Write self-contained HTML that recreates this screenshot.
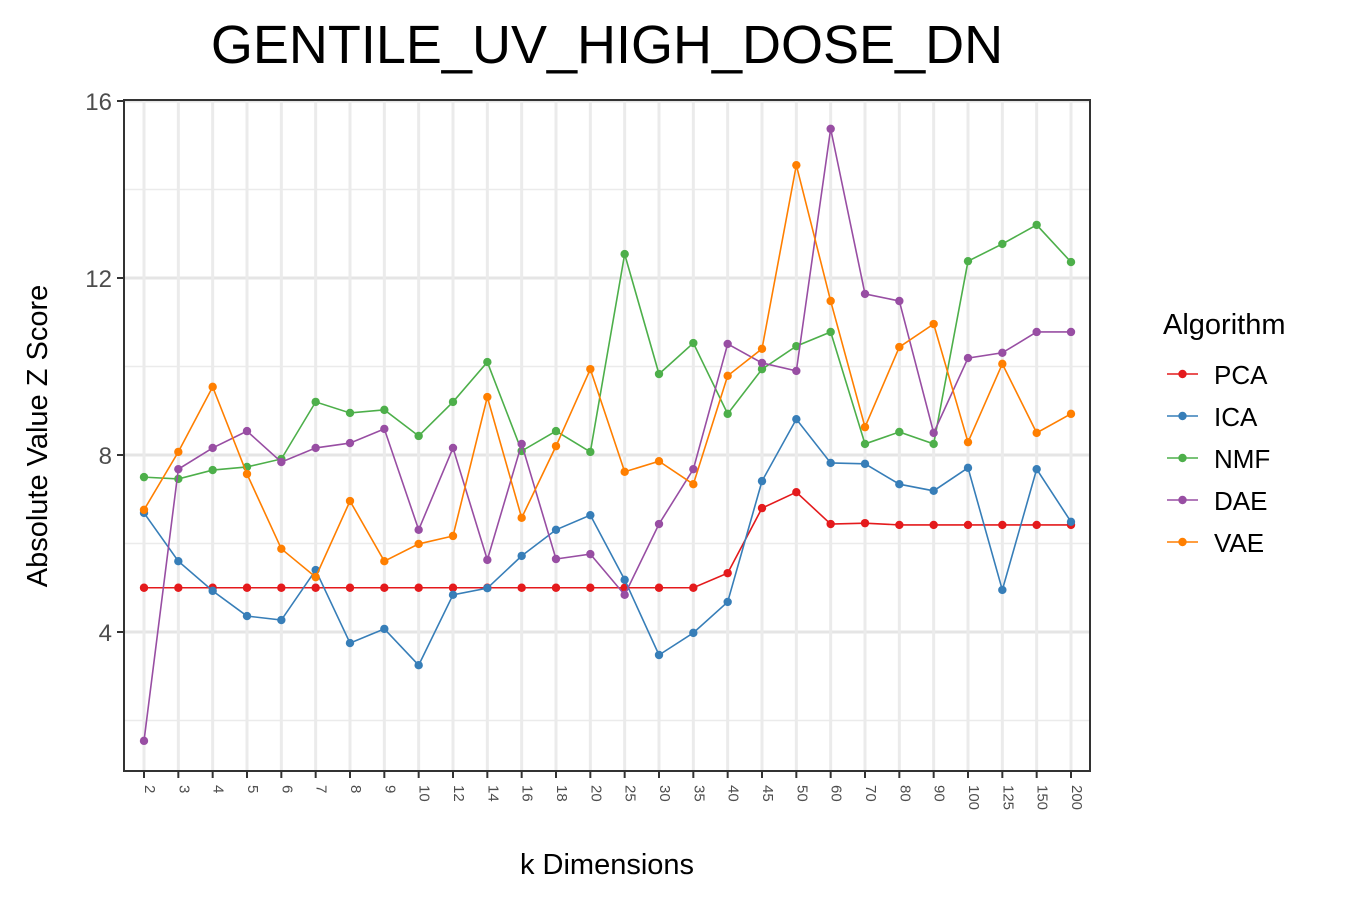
<!DOCTYPE html>
<html><head><meta charset="utf-8"><style>
body{margin:0;background:#fff}
svg text{font-family:"Liberation Sans",Arial,sans-serif}
</style></head><body>
<svg id="chart" width="1350" height="900" xmlns="http://www.w3.org/2000/svg">
<text x="607" y="63" font-size="54" text-anchor="middle">GENTILE_UV_HIGH_DOSE_DN</text>
<g id="grid"></g>
<g id="series"></g>
<rect x="124" y="100" width="966" height="671" fill="none" stroke="#333" stroke-width="2"/>
<g id="axes"></g>
<text x="607" y="874" font-size="29" text-anchor="middle">k Dimensions</text>
<text transform="translate(47,436) rotate(-90)" font-size="29" text-anchor="middle">Absolute Value Z Score</text>
<g id="legend"></g>
</svg>
<script>
const categories=["2","3","4","5","6","7","8","9","10","12","14","16","18","20","25","30","35","40","45","50","60","70","80","90","100","125","150","200"];
const seriesNames=["PCA","ICA","NMF","DAE","VAE"];
const colors=["#E41A1C","#377EB8","#4DAF4A","#984EA3","#FF7F00"];
const pcaValues=[5.0,5.0,5.0,5.0,5.0,5.0,5.0,5.0,5.0,5.0,5.0,5.0,5.0,5.0,5.0,5.0,5.0,5.33,6.80,7.16,6.44,6.46,6.42,6.42,6.42,6.42,6.42,6.42];
const icaValues=[6.69,5.60,4.93,4.36,4.27,5.40,3.75,4.07,3.25,4.84,4.99,5.72,6.31,6.64,5.18,3.48,3.98,4.68,7.41,8.81,7.82,7.80,7.34,7.19,7.71,4.95,7.68,6.49];
const nmfValues=[7.50,7.46,7.66,7.73,7.91,9.20,8.95,9.02,8.43,9.20,10.10,8.09,8.54,8.07,12.54,9.83,10.53,8.93,9.94,10.46,10.78,8.25,8.52,8.25,12.38,12.77,13.20,12.36];
const daeValues=[1.54,7.68,8.16,8.54,7.84,8.16,8.27,8.59,6.31,8.16,5.63,8.25,5.65,5.76,4.84,6.44,7.68,10.51,10.08,9.90,15.37,11.64,11.48,8.50,10.19,10.31,10.78,10.78];
const vaeValues=[6.76,8.07,9.54,7.57,5.88,5.24,6.96,5.60,5.99,6.17,9.31,6.58,8.20,9.94,7.62,7.86,7.34,9.79,10.40,14.55,11.48,8.63,10.44,10.96,8.29,10.06,8.50,8.93];
const yTicks=[4,8,12,16];
const yMinor=[2,6,10,14];
const NS="http://www.w3.org/2000/svg";
const x=i=>144+i*(1071-144)/(categories.length-1);
const y=v=>809-v*44.25;
function mk(tag,attrs,parent){const e=document.createElementNS(NS,tag);for(const k in attrs)e.setAttribute(k,attrs[k]);parent.appendChild(e);return e;}
const grid=document.getElementById('grid'),axes=document.getElementById('axes'),ser=document.getElementById('series'),leg=document.getElementById('legend');
yMinor.forEach(v=>{const l=mk('line',{x1:124,x2:1090,y1:y(v),y2:y(v),stroke:'#ebebeb','stroke-width':1.5},grid);

});
yTicks.forEach(v=>{const l=mk('line',{x1:124,x2:1090,y1:y(v),y2:y(v),stroke:'#e5e5e5','stroke-width':3},grid);


const t=mk('line',{x1:117,x2:124,y1:y(v),y2:y(v),stroke:'#333','stroke-width':2},axes);


const tx=mk('text',{x:112,y:y(v)+9,'font-size':24,'text-anchor':'end',fill:'#4d4d4d'},axes);tx.textContent=v;

});
categories.forEach((c,i)=>{const l=mk('line',{x1:x(i),x2:x(i),y1:100,y2:771,stroke:'#ebebeb','stroke-width':3},grid);


const t=mk('line',{x1:x(i),x2:x(i),y1:771,y2:778,stroke:'#333','stroke-width':2},axes);


const tx=mk('text',{transform:`translate(${x(i)+1},785) rotate(90)`,'font-size':15,'text-anchor':'start',fill:'#4d4d4d'},axes);tx.textContent=c;

});
const all=[pcaValues,icaValues,nmfValues,daeValues,vaeValues];
all.forEach((vals,s)=>{const g=mk('g',{},ser);


const p=mk('polyline',{points:vals.map((v,i)=>x(i)+','+y(v)).join(' '),fill:'none',stroke:colors[s],'stroke-width':1.6},g);


vals.forEach((v,i)=>{const c=mk('circle',{cx:x(i),cy:y(v),r:4.2,fill:colors[s]},g);

});});
const lt=mk('text',{x:1163,y:334,'font-size':29},leg);lt.textContent='Algorithm';


seriesNames.forEach((n,s)=>{const yy=374+s*42;const g=mk('g',{},leg);


mk('line',{x1:1167,x2:1198,y1:yy,y2:yy,stroke:colors[s],'stroke-width':1.6},g);
mk('circle',{cx:1182.5,cy:yy,r:4.2,fill:colors[s]},g);
const t=mk('text',{x:1214,y:yy+10,'font-size':26},g);t.textContent=n;});
</script>
</body></html>
